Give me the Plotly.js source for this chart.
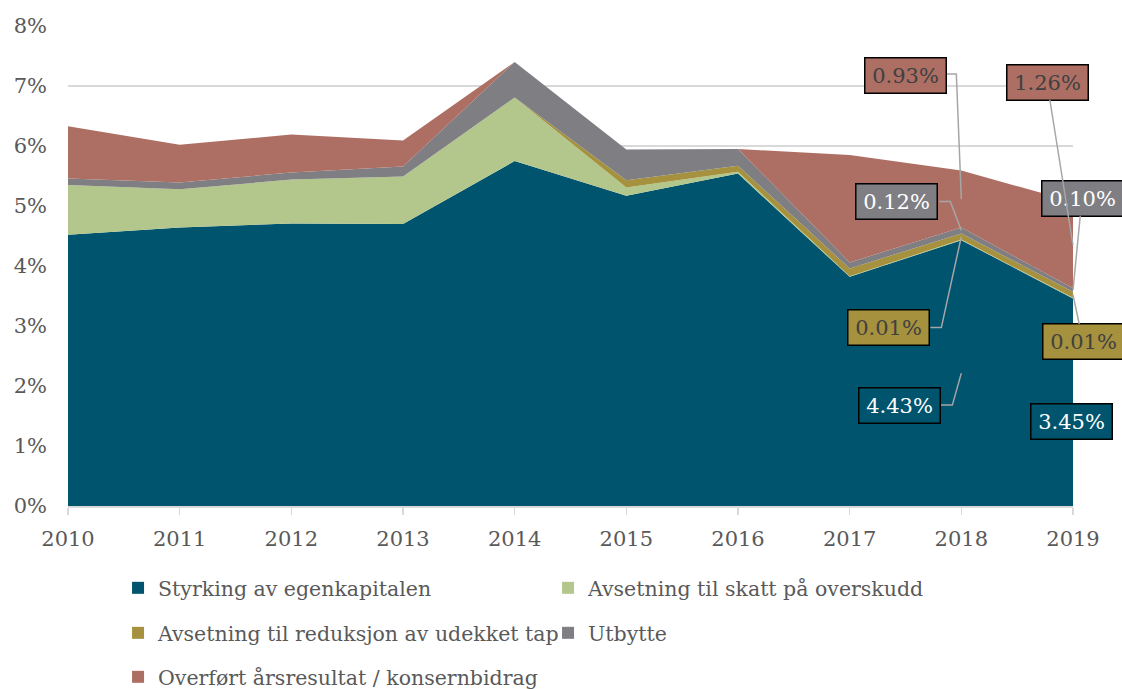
<!DOCTYPE html>
<html>
<head>
<meta charset="utf-8">
<script src="https://cdn.plot.ly/plotly-3.0.1.min.js"></script>
<style>
html,body{margin:0;padding:0;background:#ffffff;}
#chart{width:1122px;height:689px;}
</style>
</head>
<body>
<div id="chart"></div>
<script>
// ---- data ----
const years = [2010, 2011, 2012, 2013, 2014, 2015, 2016, 2017, 2018, 2019];
const seriesNames = [
  "Styrking av egenkapitalen",
  "Avsetning til skatt på overskudd",
  "Avsetning til reduksjon av udekket tap",
  "Utbytte",
  "Overført årsresultat / konsernbidrag"
];
const styrking  = [4.52, 4.64, 4.71, 4.70, 5.75, 5.17, 5.54, 3.82, 4.43, 3.46];
const skatt     = [0.83, 0.64, 0.73, 0.79, 1.06, 0.14, 0.03, 0.01, 0.01, 0.01];
const reduksjon = [0.00, 0.00, 0.00, 0.00, 0.00, 0.12, 0.10, 0.13, 0.10, 0.10];
const utbytte   = [0.11, 0.11, 0.12, 0.17, 0.59, 0.51, 0.28, 0.10, 0.10, 0.06];
const overfort  = [0.87, 0.63, 0.63, 0.43, 0.00, 0.00, 0.00, 1.79, 0.95, 1.44];
const yTicks = [0, 1, 2, 3, 4, 5, 6, 7, 8];
const yTickText = ["0%", "1%", "2%", "3%", "4%", "5%", "6%", "7%", "8%"];
// data label texts (series index -> text) for 2018 and 2019
const labels2018 = {0: "4.43%", 2: "0.01%", 3: "0.12%", 4: "0.93%"};
const labels2019 = {0: "3.45%", 2: "0.01%", 3: "0.10%", 4: "1.26%"};

// ---- style ----
const colors = ["#00546e", "#b3c78c", "#a6923e", "#7f7e83", "#ad6f64"];
const labelTextColors = ["#ffffff", "#404040", "#404040", "#ffffff", "#404040"];
const FONT = "DejaVu Serif";
const W = 1122, H = 689;
const M = {l: 68, r: 49, t: 26, b: 183, autoexpand: false};
const plotW = W - M.l - M.r, plotH = H - M.t - M.b;
const xRange = [2010, 2019], yRange = [0, 8];
const pxX = (xRange[1] - xRange[0]) / plotW;   // data units per px
const pxY = (yRange[1] - yRange[0]) / plotH;

const allSeries = [styrking, skatt, reduksjon, utbytte, overfort];

// segment midpoint for series i at year index j
function segMid(i, j) {
  let base = 0;
  for (let k = 0; k < i; k++) base += allSeries[k][j];
  return base + allSeries[i][j] / 2;
}

const traces = allSeries.map((vals, i) => ({
  type: "scatter",
  mode: "lines",
  x: years,
  y: vals,
  name: seriesNames[i],
  stackgroup: "one",
  line: {width: 0, color: colors[i]},
  fillcolor: colors[i],
  showlegend: false,
  hoverinfo: "skip"
}));

// legend-only traces (square symbols)
const legendIds = ["legend", "legend", "legend2", "legend2", "legend3"];
seriesNames.forEach((n, i) => {
  traces.push({
    type: "bar",
    x: [null],
    y: [null],
    name: n,
    marker: {color: colors[i]},
    legend: legendIds[i],
    showlegend: true,
    hoverinfo: "skip"
  });
});

// ---- labels ----
const annotations = [];
const shapes = [];
function boxAnn(x, y, text, i, extra) {
  return Object.assign({
    x: x, y: y, xref: "x", yref: "y",
    text: text,
    font: {family: FONT, size: 21, color: labelTextColors[i]},
    bgcolor: colors[i],
    bordercolor: "#000000",
    borderwidth: 1.5,
    borderpad: 3,
    width: 74,
    height: 28,
    align: "center",
    valign: "middle"
  }, extra);
}

// 2018: boxes with elbow leaders (offsets in px from the segment midpoint)
const j18 = years.indexOf(2018);
const layout18 = {
  0: {box: [-62, 32], leader: [[-21, 32], [-9, 32]]},
  2: {box: [-73, 91], leader: [[-31, 91], [-20, 91]]},
  3: {box: [-65, -29], leader: [[-22, -29], [-11, -29]]},
  4: {box: [-56, -124], leader: [[-15, -125], [-5, -125]]}
};
Object.keys(labels2018).forEach(k => {
  const i = +k;
  const ax = years[j18], ay = segMid(i, j18);
  const L = layout18[i];
  annotations.push(boxAnn(ax + L.box[0] * pxX, ay - L.box[1] * pxY, labels2018[i], i, {showarrow: false}));
  const pts = L.leader.map(p => [ax + p[0] * pxX, ay - p[1] * pxY]).concat([[ax, ay]]);
  shapes.push({
    type: "path", xref: "x", yref: "y",
    path: "M" + pts.map(p => p[0] + "," + p[1]).join(" L"),
    line: {color: "#a6a6a6", width: 1.5}
  });
});

// 2019: boxes with straight leaders
const j19 = years.indexOf(2019);
const layout19 = {
  0: {box: [-2, 19], arrow: false},
  2: {box: [10, 47], arrow: true},
  3: {box: [9, -92], arrow: true},
  4: {box: [-26, -163], arrow: true}
};
Object.keys(labels2019).forEach(k => {
  const i = +k;
  const ax = years[j19], ay = segMid(i, j19);
  const L = layout19[i];
  if (L.arrow) {
    annotations.push(boxAnn(ax, ay, labels2019[i], i, {
      showarrow: true, arrowhead: 0, arrowwidth: 1.5, arrowcolor: "#a6a6a6",
      ax: L.box[0], ay: L.box[1], axref: "pixel", ayref: "pixel", standoff: 0
    }));
  } else {
    annotations.push(boxAnn(ax + L.box[0] * pxX, ay - L.box[1] * pxY, labels2019[i], i, {showarrow: false}));
  }
});

const legendBase = {
  orientation: "h",
  traceorder: "normal",
  x: 0.0498, xanchor: "left",
  yanchor: "middle",
  font: {family: FONT, size: 20.5, color: "#595959"},
  entrywidth: 385, entrywidthmode: "pixels",
  bgcolor: "rgba(0,0,0,0)",
  borderwidth: 0,
  itemclick: false, itemdoubleclick: false
};

const rowY = px => (M.t + plotH - px) / plotH;

const layout = {
  width: W, height: H,
  margin: M,
  paper_bgcolor: "#ffffff",
  plot_bgcolor: "#ffffff",
  font: {family: FONT, size: 21, color: "#595959"},
  showlegend: true,
  xaxis: {
    range: xRange,
    tickmode: "array",
    tickvals: years,
    ticktext: years.map(String),
    ticks: "outside",
    ticklen: 7,
    tickcolor: "#d9d9d9",
    tickwidth: 1.5,
    showline: true,
    linecolor: "#d9d9d9",
    linewidth: 1.5,
    showgrid: false,
    zeroline: false,
    tickfont: {family: FONT, size: 21, color: "#595959"},
    ticklabelstandoff: 6,
    automargin: false,
    fixedrange: true
  },
  yaxis: {
    range: yRange,
    tickmode: "array",
    tickvals: yTicks,
    ticktext: yTickText,
    ticks: "",
    showline: false,
    showgrid: true,
    gridcolor: "#d9d9d9",
    gridwidth: 1.5,
    zeroline: false,
    tickfont: {family: FONT, size: 21, color: "#595959"},
    ticklabelstandoff: 20,
    automargin: false,
    fixedrange: true
  },
  legend: Object.assign({}, legendBase, {y: rowY(588)}),
  legend2: Object.assign({}, legendBase, {y: rowY(633)}),
  legend3: Object.assign({}, legendBase, {y: rowY(677)}),
  annotations: annotations,
  shapes: shapes
};

Plotly.newPlot("chart", traces, layout, {displayModeBar: false, staticPlot: true});
</script>
</body>
</html>
